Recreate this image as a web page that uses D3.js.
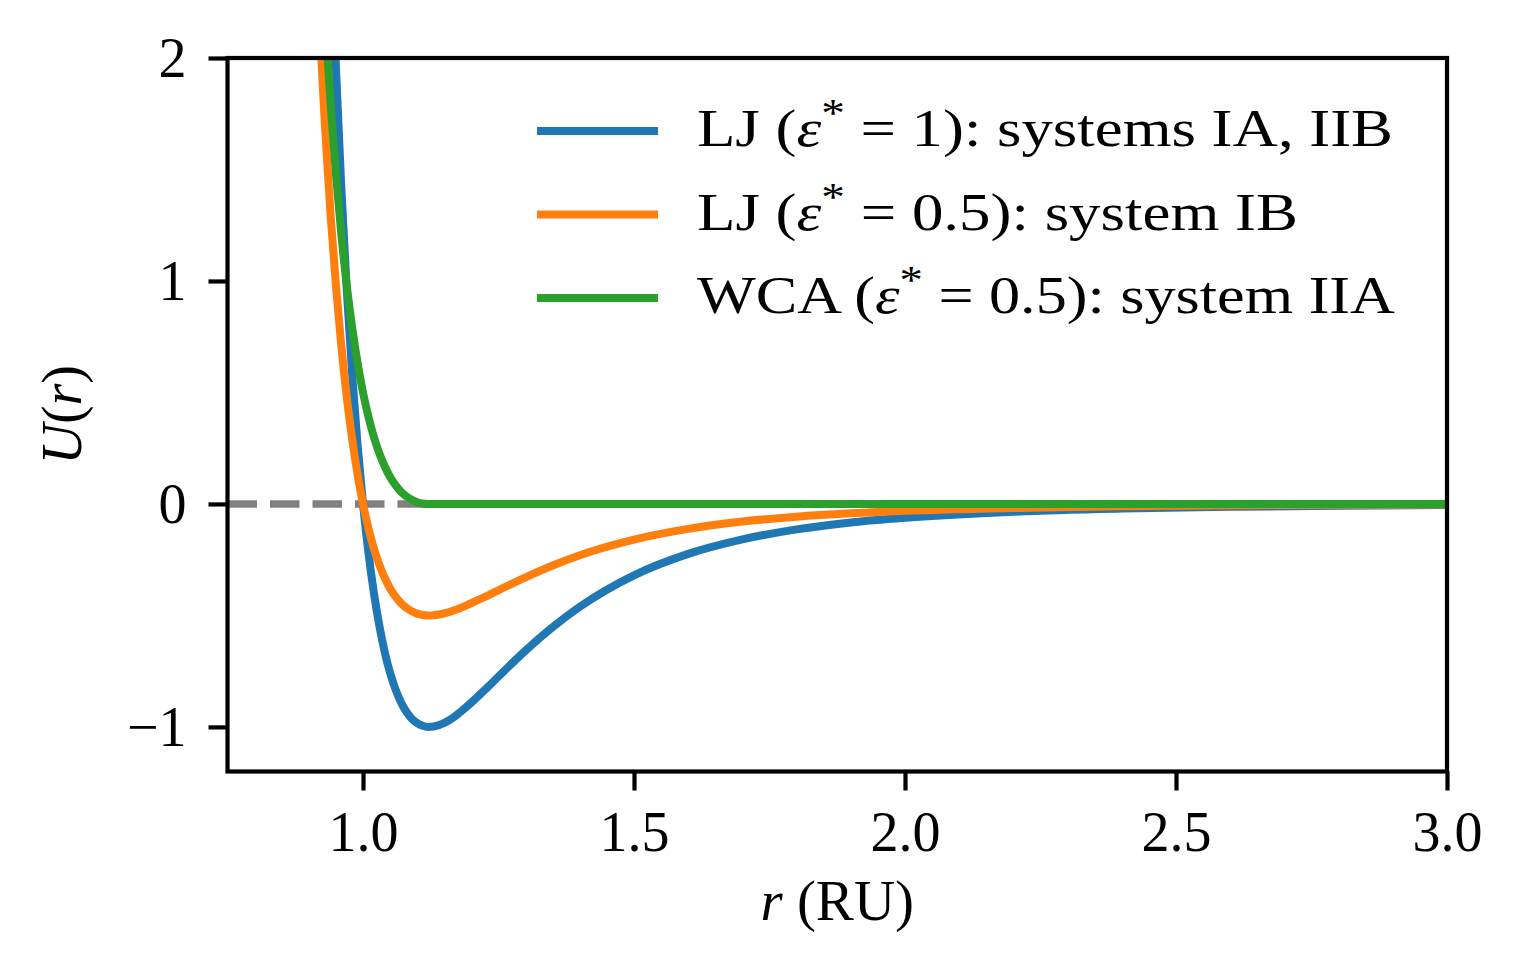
<!DOCTYPE html>
<html>
<head>
<meta charset="utf-8">
<script src="https://cdn.jsdelivr.net/npm/d3@7"></script>
<style>
  html, body { margin: 0; padding: 0; background: #fff; }
  svg { display: block; }
  text { font-family: "Liberation Serif", "DejaVu Serif", serif; fill: #000; }
</style>
</head>
<body>
<svg id="chart" width="1523" height="978"></svg>
<script>
// ---- data ----
const rValues = [0.92,0.93,0.94,0.95,0.96,0.97,0.98,0.99,1.00,1.01,1.02,1.03,1.04,1.05,1.06,1.07,1.08,1.09,1.10,1.11,1.12,1.13,1.14,1.15,1.17,1.19,1.21,1.23,1.25,1.30,1.35,1.40,1.50,1.60,1.70,1.80,1.90,2.00,2.20,2.40,2.60,2.80,3.00];
const ljEps1 = [4.283,3.374,2.606,1.961,1.418,0.963,0.582,0.264,0,-0.218,-0.398,-0.544,-0.663,-0.758,-0.832,-0.889,-0.932,-0.963,-0.983,-0.995,-1.000,-0.998,-0.992,-0.982,-0.952,-0.912,-0.868,-0.822,-0.774,-0.657,-0.552,-0.461,-0.320,-0.224,-0.159,-0.114,-0.083,-0.062,-0.035,-0.021,-0.013,-0.008,-0.005];
const ljEps05 = [2.141,1.687,1.303,0.981,0.709,0.481,0.291,0.132,0,-0.109,-0.199,-0.272,-0.331,-0.379,-0.416,-0.445,-0.466,-0.481,-0.492,-0.498,-0.500,-0.499,-0.496,-0.491,-0.476,-0.456,-0.434,-0.411,-0.387,-0.329,-0.276,-0.230,-0.160,-0.112,-0.079,-0.057,-0.042,-0.031,-0.018,-0.010,-0.006,-0.004,-0.003];
const wcaEps05 = [2.641,2.187,1.803,1.481,1.209,0.981,0.791,0.632,0.500,0.391,0.301,0.228,0.169,0.121,0.084,0.055,0.034,0.019,0.008,0.002,0.000,0,0,0,0,0,0,0,0,0,0,0,0,0,0,0,0,0,0,0,0,0,0];
const seriesColors = ["#1f77b4", "#ff7f0e", "#2ca02c"];
const xTicks = [1.0, 1.5, 2.0, 2.5, 3.0];
const xTickLabels = ["1.0", "1.5", "2.0", "2.5", "3.0"];
const yTicks = [-1, 0, 1, 2];
const yTickLabels = ["\u22121", "0", "1", "2"];
const xDomain = [0.75, 3.0];
const yDomain = [-1.2, 2];
const legendRows = [
  {pre: "LJ (", eq: " = 1): systems IA, IIB"},
  {pre: "LJ (", eq: " = 0.5): system IB"},
  {pre: "WCA (", eq: " = 0.5): system IIA"}
];

// ---- layout ----
const L = 227.5, R = 1447, T = 58, B = 771.5;
const legendTextWidths = [696, 601, 698];
const svg = d3.select("#chart");
const x = d3.scaleLinear().domain(xDomain).range([L, R]);
const y = d3.scaleLinear().domain(yDomain).range([B, T]);

svg.append("defs").append("clipPath").attr("id", "clip")
  .append("rect").attr("x", L).attr("y", T).attr("width", R - L).attr("height", B - T);

const plot = svg.append("g").attr("clip-path", "url(#clip)");

// dashed zero line
plot.append("line")
  .attr("x1", x(xDomain[0])).attr("x2", x(xDomain[1]))
  .attr("y1", y(0)).attr("y2", y(0))
  .attr("stroke", "#808080").attr("stroke-width", 7.5)
  .attr("stroke-dasharray", "29.5,13");

const seriesData = [ljEps1, ljEps05, wcaEps05];
const line = d3.line()
  .x(d => x(d[0])).y(d => y(d[1]))
  .curve(d3.curveMonotoneX);

seriesData.forEach((vals, i) => {
  const pts = rValues.map((r, j) => [r, vals[j]]);
  plot.append("path")
    .datum(pts)
    .attr("d", line)
    .attr("fill", "none")
    .attr("stroke", seriesColors[i])
    .attr("stroke-width", 8)
    .attr("stroke-linejoin", "round");
});

// axes
const tickFont = 56;
const xAxis = d3.axisBottom(x).tickValues(xTicks)
  .tickFormat((d, i) => xTickLabels[i]).tickSizeOuter(0).tickSize(19).tickPadding(10);
const gx = svg.append("g").attr("transform", `translate(0,${B})`).call(xAxis);
const yAxis = d3.axisLeft(y).tickValues(yTicks)
  .tickFormat((d, i) => yTickLabels[i]).tickSizeOuter(0).tickSize(19).tickPadding(22);
const gy = svg.append("g").attr("transform", `translate(${L},0)`).call(yAxis);
[gx, gy].forEach(g => {
  g.select(".domain").remove();
  g.selectAll(".tick line").attr("stroke", "#000").attr("stroke-width", 4.2);
  g.selectAll(".tick text").style("font-family", '"Liberation Serif", serif')
    .style("font-size", tickFont + "px").attr("fill", "#000");
});
gx.selectAll(".tick text").attr("dy", null).attr("y", 0).attr("transform", "translate(0,79)");
gy.selectAll(".tick text").attr("dy", "0.33em");

// frame
svg.append("rect").attr("x", L).attr("y", T).attr("width", R - L).attr("height", B - T)
  .attr("fill", "none").attr("stroke", "#000").attr("stroke-width", 4.2);

// axis labels
const xl = svg.append("text").attr("x", (L + R) / 2).attr("y", 920)
  .attr("text-anchor", "middle").style("font-size", "57px");
xl.append("tspan").style("font-style", "italic").text("r");
xl.append("tspan").text(" (RU)");

const yl = svg.append("text").attr("transform", `translate(81,${(T + B) / 2}) rotate(-90)`)
  .attr("text-anchor", "middle").style("font-size", "56px");
yl.append("tspan").style("font-style", "italic").text("U");
yl.append("tspan").text("(");
yl.append("tspan").style("font-style", "italic").text("r");
yl.append("tspan").text(")");

// legend
const legFont = 53.3;
const legend = svg.append("g");
legendRows.forEach((row, i) => {
  const base = 146 + i * 83.5;
  legend.append("line")
    .attr("x1", 537).attr("x2", 658)
    .attr("y1", base - 15).attr("y2", base - 15)
    .attr("stroke", seriesColors[i]).attr("stroke-width", 8);
  const t = legend.append("text").attr("x", 697).attr("y", base)
    .style("font-size", legFont + "px");
  t.append("tspan").text(row.pre);
  t.append("tspan").style("font-style", "italic").text("\u03B5");
  t.append("tspan").attr("dy", -20).style("font-size", "40px").text("*");
  t.append("tspan").attr("dy", 20).text(row.eq);
  const w = t.node().getComputedTextLength();
  if (w > 0) t.attr("textLength", legendTextWidths[i]).attr("lengthAdjust", "spacingAndGlyphs");
});
</script>
</body>
</html>
